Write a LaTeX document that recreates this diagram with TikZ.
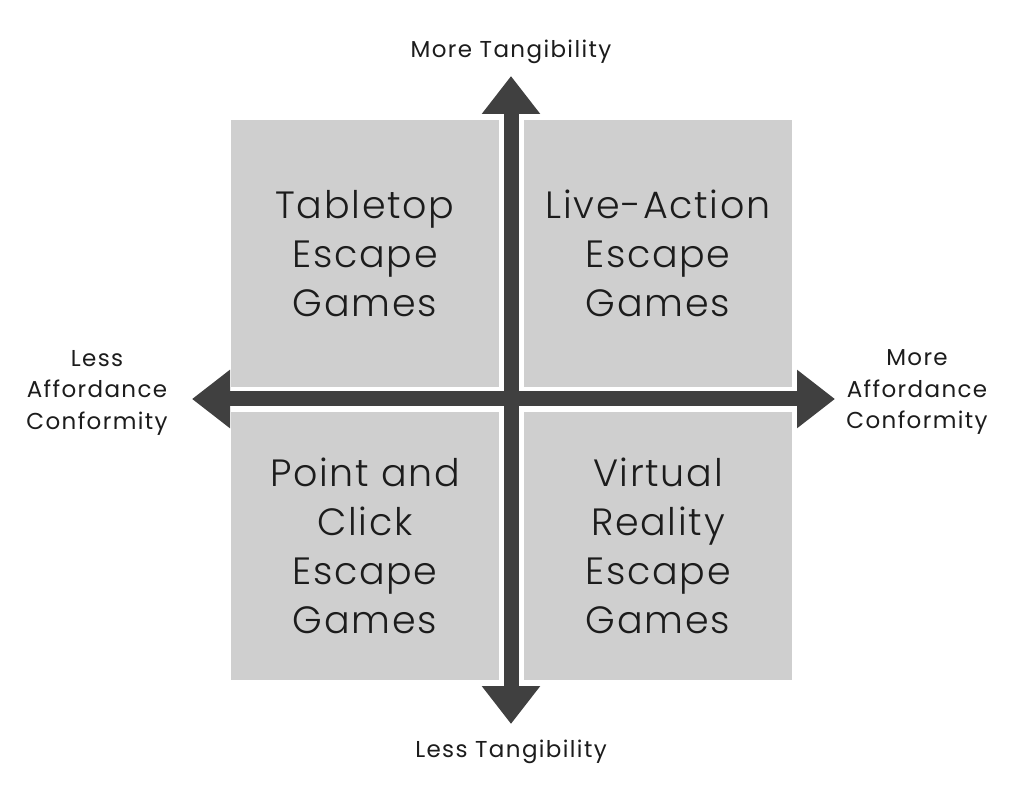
\documentclass[tikz,border=0pt]{standalone}
\usepackage{fontspec}
\setmainfont{Poppins}
\newfontfamily\boxfont{Poppins Light}[LetterSpace=4.5]
\newfontfamily\lblfont{Poppins}[LetterSpace=6]
\usetikzlibrary{arrows.meta}
\definecolor{boxgray}{HTML}{CFCFCF}
\definecolor{axisgray}{HTML}{404040}
\definecolor{txt}{HTML}{1C1C1C}
\tikzset{
  quad/.style={fill=boxgray, draw=none, minimum width=268pt, minimum height=267pt,
    inner sep=0pt, align=center, text=txt,
    font=\boxfont\fontsize{38pt}{49pt}\selectfont},
  axis/.style={draw=axisgray, line width=15pt,
    {Triangle[length=38pt,width=56pt]}-{Triangle[length=38pt,width=56pt]}},
  lbl/.style={align=center, text=txt, inner sep=0pt,
    font=\lblfont\fontsize{23pt}{31.5pt}\selectfont}
}
\begin{document}
\begin{tikzpicture}[x=1pt,y=-1pt]
\useasboundingbox (0,0) rectangle (1031,791);
\fill[white] (0,0) rectangle (1031,791);
\node[quad] (tl) at (365,253.5) {Tabletop\\Escape\\Games};
\node[quad] (tr) at (658,253.5) {Live-Action\\Escape\\Games};
\node[quad] (bl) at (365,546) {Point and\\Click\\Escape\\Games};
\node[quad] (br) at (658,546) {Virtual\\Reality\\Escape\\Games};
\coordinate (top) at (511,76);
\coordinate (bottom) at (511,724);
\coordinate (left) at (192,399);
\coordinate (right) at (835,399);
\draw[axis] (bottom) -- (top);
\draw[axis] (left) -- (right);
\node[lbl] (tmore) at (511,52) {More Tangibility};
\node[lbl] (tless) at (511,752) {Less Tangibility};
\node[lbl] (aless) at (97,392.5) {Less\\Affordance\\Conformity};
\node[lbl] (amore) at (917,392.5) {More\\Affordance\\Conformity};
\end{tikzpicture}
\end{document}
